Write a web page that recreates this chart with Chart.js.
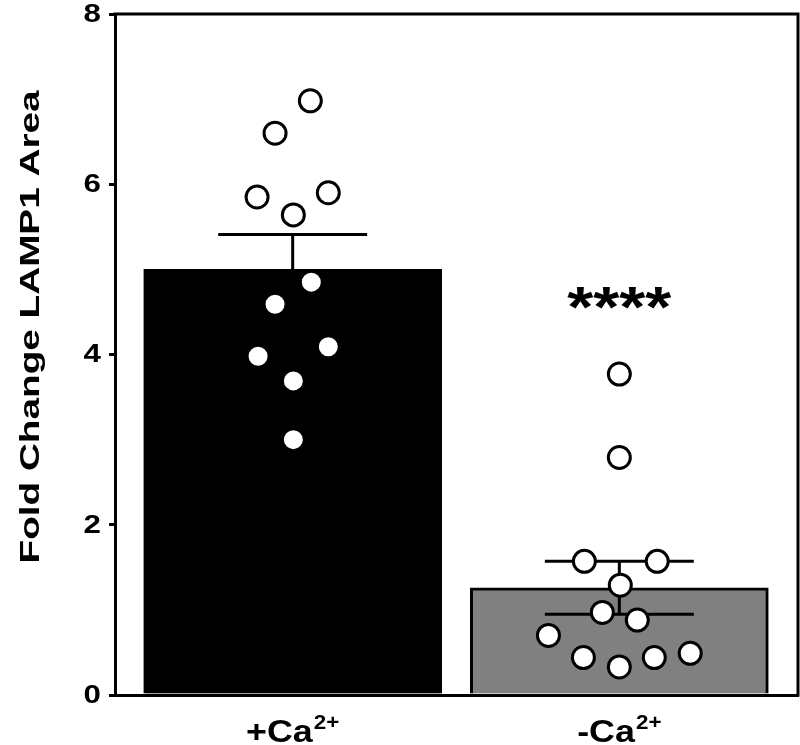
<!DOCTYPE html>
<html>
<head>
<meta charset="utf-8">
<script src="https://cdn.jsdelivr.net/npm/chart.js@4.4.0/dist/chart.umd.min.js"></script>
<style>
  html, body { margin: 0; padding: 0; background: #fff; }
  #wrap { width: 800px; height: 745px; }
</style>
</head>
<body>
<div id="wrap"><canvas id="lampChart" width="800" height="745"></canvas></div>
<script>
// DATA: fold change of LAMP1 area, +Ca2+ vs -Ca2+
var groupes = ['+Ca', '-Ca'];
var exposant = '2+';
var positions = [1, 2];
var moyennes = [5.0, 1.26];
var erreurs = [0.41, 0.31];
var couleurs = ['#000000', '#808080'];

// points individuels (+Ca2+)
var plusX = [1.054, 0.946, 0.891, 1.109, 1.002, 1.057, 0.946, 0.894, 1.109, 1.002, 1.002];
var plusY = [6.98, 6.60, 5.85, 5.90, 5.64, 4.85, 4.59, 3.98, 4.09, 3.69, 3.00];

// points individuels (-Ca2+)
var moinsX = [2.0, 2.0, 1.893, 2.116, 2.003, 1.948, 2.055, 1.783, 1.890, 2.0, 2.107, 2.217];
var moinsY = [3.77, 2.79, 1.57, 1.57, 1.29, 0.97, 0.88, 0.70, 0.44, 0.33, 0.44, 0.49];

// axe y
var yTicks = [0, 2, 4, 6, 8];
var titreY = 'Fold Change LAMP1 Area';

// significativité
var signif = '****';
var signifY = 4.32;

var police = '"Liberation Sans", Arial, sans-serif';
var demiCap = 0.228; // demi-largeur des barres d'erreur (unités x)

function points(xs, ys) {
  return xs.map(function (x, i) { return { x: x, y: ys[i] }; });
}

function texteEtire(ctx, txt, x, y, sx) {
  ctx.save();
  ctx.translate(x, y);
  ctx.scale(sx, 1);
  ctx.fillText(txt, 0, 0);
  ctx.restore();
}

var dessins = {
  id: 'dessins',
  afterDatasetDraw: function (chart, args) {
    if (args.index !== 2) return; // apres les barres, avant les points
    var xs = chart.scales.x, ys = chart.scales.y, ctx = chart.ctx;
    ctx.save();
    ctx.strokeStyle = '#000';
    ctx.lineWidth = 3;
    for (var i = 0; i < positions.length; i++) {
      var cx = xs.getPixelForValue(positions[i]);
      var g = xs.getPixelForValue(positions[i] - demiCap);
      var d = xs.getPixelForValue(positions[i] + demiCap);
      var haut = ys.getPixelForValue(moyennes[i] + erreurs[i]);
      var bas = ys.getPixelForValue(moyennes[i] - erreurs[i]);
      ctx.beginPath();
      ctx.moveTo(cx, haut); ctx.lineTo(cx, bas);
      ctx.moveTo(g, haut); ctx.lineTo(d, haut);
      ctx.moveTo(g, bas); ctx.lineTo(d, bas);
      ctx.stroke();
    }
    ctx.restore();
  },
  afterDraw: function (chart) {
    var ctx = chart.ctx, a = chart.chartArea;
    var xs = chart.scales.x, ys = chart.scales.y;
    ctx.save();
    // cadre haut + droite
    ctx.strokeStyle = '#000';
    ctx.lineWidth = 3;
    ctx.lineCap = 'square';
    ctx.beginPath();
    ctx.moveTo(a.left, a.top);
    ctx.lineTo(a.right, a.top);
    ctx.lineTo(a.right, a.bottom);
    ctx.stroke();

    ctx.fillStyle = '#000';

    // etiquettes y
    ctx.font = 'bold 25px ' + police;
    ctx.textAlign = 'right';
    ctx.textBaseline = 'middle';
    yTicks.forEach(function (v) {
      texteEtire(ctx, String(v), 101, ys.getPixelForValue(v) + 1, 1.25);
    });

    // titre axe y
    ctx.font = 'bold 28px ' + police;
    ctx.textAlign = 'center';
    ctx.textBaseline = 'middle';
    var sx = 473 / ctx.measureText(titreY).width;
    ctx.save();
    ctx.translate(31, 327);
    ctx.rotate(-Math.PI / 2);
    ctx.scale(sx, 1);
    ctx.fillText(titreY, 0, 0);
    ctx.restore();

    // etiquettes x avec exposant
    ctx.textAlign = 'left';
    ctx.textBaseline = 'alphabetic';
    for (var i = 0; i < groupes.length; i++) {
      var cx = xs.getPixelForValue(positions[i]);
      ctx.font = 'bold 32px ' + police;
      var w1 = ctx.measureText(groupes[i]).width * 1.12;
      ctx.font = 'bold 20px ' + police;
      var w2 = ctx.measureText(exposant).width * 1.12;
      var x0 = cx - (w1 + w2 + 1) / 2;
      ctx.font = 'bold 32px ' + police;
      texteEtire(ctx, groupes[i], x0, 742, 1.12);
      ctx.font = 'bold 20px ' + police;
      texteEtire(ctx, exposant, x0 + w1 + 1, 729, 1.12);
    }

    // ****
    ctx.font = 'bold 58px ' + police;
    ctx.textAlign = 'center';
    var sx2 = 104 / ctx.measureText(signif).width;
    texteEtire(ctx, signif, xs.getPixelForValue(positions[1]), ys.getPixelForValue(signifY), sx2);
    ctx.restore();
  }
};

var ctx = document.getElementById('lampChart').getContext('2d');
var lampChart = new Chart(ctx, {
  type: 'bar',
  data: {
    datasets: [{
      type: 'scatter',
      data: points(plusX, plusY),
      pointRadius: 11,
      pointBackgroundColor: '#fff',
      pointBorderColor: '#000',
      pointBorderWidth: 3,
      order: 0
    }, {
      type: 'scatter',
      data: points(moinsX, moinsY),
      pointRadius: 11,
      pointBackgroundColor: '#fff',
      pointBorderColor: '#000',
      pointBorderWidth: 3,
      order: 0
    }, {
      type: 'bar',
      data: points(positions, moyennes),
      backgroundColor: couleurs,
      borderColor: '#000',
      borderWidth: 3,
      barThickness: 298,
      order: 1
    }]
  },
  options: {
    responsive: false,
    animation: false,
    layout: { autoPadding: false, padding: { top: 14, right: 2, left: 0, bottom: 0 } },
    plugins: { legend: { display: false }, tooltip: { enabled: false } },
    scales: {
      x: {
        type: 'linear',
        offset: false,
        min: 0.456,
        max: 2.547,
        afterFit: function (s) { s.height = 50; },
        ticks: { display: false },
        grid: { display: true, drawOnChartArea: false, drawTicks: false },
        border: { display: true, color: '#000', width: 3 }
      },
      y: {
        min: 0,
        max: 8,
        afterFit: function (s) { s.width = 115; },
        afterBuildTicks: function (s) { s.ticks = yTicks.map(function (v) { return { value: v }; }); },
        ticks: { display: false },
        grid: { drawOnChartArea: false, tickLength: 6, lineWidth: 3, color: '#000' },
        border: { display: true, color: '#000', width: 3 }
      }
    }
  },
  plugins: [dessins]
});
</script>
</body>
</html>
